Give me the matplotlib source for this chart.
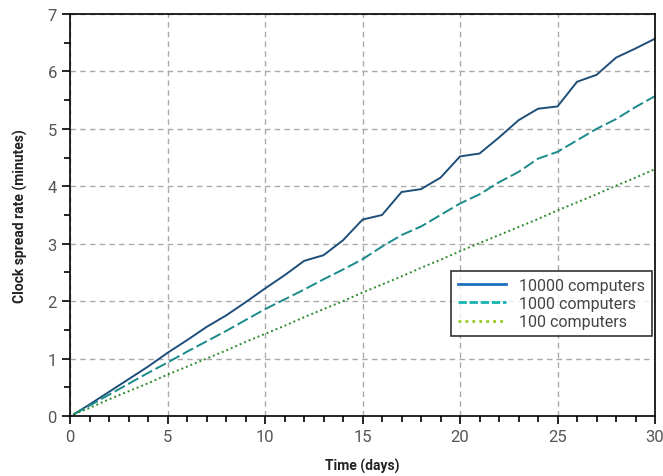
import numpy as np
import matplotlib
matplotlib.use("Agg")
import matplotlib.pyplot as plt
from matplotlib.lines import Line2D
from matplotlib.ticker import MultipleLocator

days = [0.2] + list(range(1, 31))
c10000 = [0.03, 0.2, 0.42, 0.64, 0.86, 1.1, 1.32, 1.55, 1.75, 1.98, 2.22, 2.45, 2.7, 2.8,
          3.06, 3.42, 3.5, 3.9, 3.95, 4.15, 4.52, 4.57, 4.85, 5.15, 5.35, 5.39, 5.82,
          5.94, 6.24, 6.4, 6.57]
c1000 = [0.03, 0.18, 0.37, 0.56, 0.75, 0.93, 1.12, 1.3, 1.48, 1.67, 1.86, 2.03, 2.2, 2.38,
         2.55, 2.73, 2.95, 3.15, 3.3, 3.5, 3.7, 3.86, 4.07, 4.25, 4.48, 4.6, 4.8, 5.0,
         5.17, 5.38, 5.57]
c100 = [0.03, 0.14, 0.29, 0.43, 0.57, 0.72, 0.86, 1.0, 1.14, 1.29, 1.43, 1.57, 1.72, 1.86,
        2.0, 2.15, 2.29, 2.43, 2.58, 2.72, 2.87, 3.01, 3.15, 3.29, 3.43, 3.58, 3.72, 3.86,
        4.01, 4.15, 4.3]
labels = ["10000 computers", "1000 computers", "100 computers"]

plt.rcParams['font.family'] = ['Roboto', 'DejaVu Sans']

fig = plt.figure(figsize=(6.63, 4.77), dpi=100)
ax = fig.add_axes([0.1056, 0.1258, 0.8824, 0.8428])

ax.plot(days, c10000, color='#1f4e79', lw=1.4, ls='-')
ax.plot(days, c1000, color='#1a8a8a', lw=1.4, ls=(0, (6, 2)))
ax.plot(days, c100, color='#2e8b2e', lw=1.4, ls=(0, (1, 1.5)))

ax.set_xlim(0, 30)
ax.set_ylim(0, 7)
ax.xaxis.set_major_locator(MultipleLocator(5))
ax.xaxis.set_minor_locator(MultipleLocator(1))
ax.yaxis.set_major_locator(MultipleLocator(1))
ax.yaxis.set_minor_locator(MultipleLocator(0.5))
ax.tick_params(which='both', direction='out', width=1.2, colors='black',
               labelcolor='#555555', labelsize=12)
ax.tick_params(which='major', length=6)
ax.tick_params(which='minor', length=4)
ax.grid(True, which='major', color='#aaaaaa', ls=(0, (4, 3)), lw=1)
for s in ax.spines.values():
    s.set_linewidth(1.2)

ax.set_xlabel("Time (days)", fontsize=10, fontweight='bold', color='#222222', labelpad=10)
ax.set_ylabel("Clock spread rate (minutes)", fontsize=10, fontweight='bold', color='#222222',
              labelpad=14)

handles = [Line2D([], [], color='#1f6fbf', lw=2, ls='-'),
           Line2D([], [], color='#17b3b3', lw=2, ls=(0, (3, 1))),
           Line2D([], [], color='#99cc22', lw=2, ls=(0, (1, 1.5)))]
leg = ax.legend(handles, labels, loc='lower left', bbox_to_anchor=(0.638, 0.178),
                fontsize=11.5, frameon=True, fancybox=False, edgecolor='black',
                handlelength=3, borderpad=0.45, labelspacing=0.2)
leg.get_frame().set_linewidth(1.2)
for t in leg.get_texts():
    t.set_color('#444444')

fig.savefig("out.png", dpi=100)
